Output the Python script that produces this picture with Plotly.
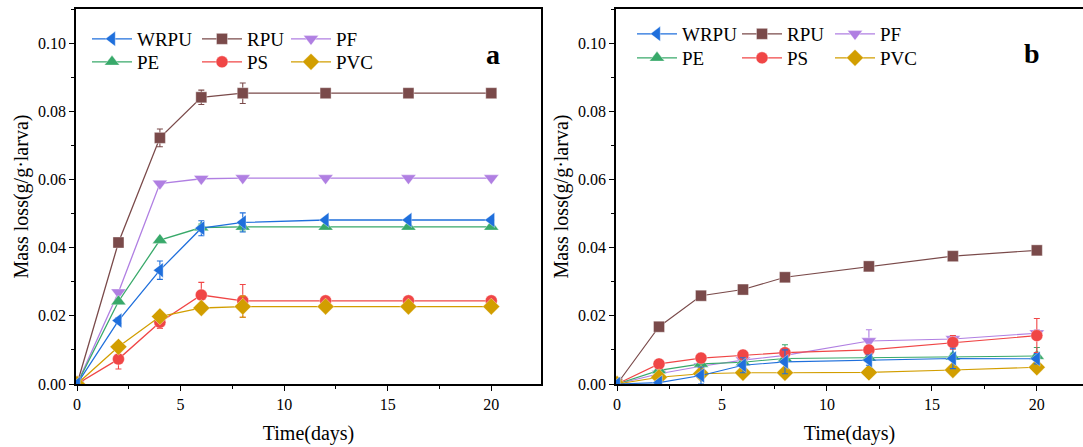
import plotly.graph_objects as go

days = [0, 2, 4, 6, 8, 12, 16, 20]

# Panel a
a_WRPU = [0, 0.0186, 0.0334, 0.0457, 0.0474, 0.0481, 0.0481, 0.0481]
a_WRPU_err = [0, 0.0008, 0.0027, 0.0022, 0.0028, 0, 0, 0]
a_RPU = [0, 0.0415, 0.0722, 0.0841, 0.0853, 0.0853, 0.0853, 0.0853]
a_RPU_err = [0, 0.0010, 0.0026, 0.0021, 0.0030, 0, 0, 0]
a_PF = [0, 0.0269, 0.0588, 0.0602, 0.0604, 0.0604, 0.0604, 0.0604]
a_PF_err = [0, 0.0005, 0.0004, 0.0005, 0.0004, 0, 0, 0]
a_PE = [0, 0.0242, 0.0422, 0.0459, 0.0461, 0.0461, 0.0461, 0.0461]
a_PE_err = [0, 0.0005, 0.0005, 0.0010, 0.0012, 0, 0, 0]
a_PS = [0, 0.0073, 0.0181, 0.0261, 0.0244, 0.0244, 0.0244, 0.0244]
a_PS_err = [0, 0.0029, 0.0018, 0.0037, 0.0048, 0, 0, 0]
a_PVC = [0, 0.0109, 0.0198, 0.0223, 0.0227, 0.0227, 0.0227, 0.0227]
a_PVC_err = [0, 0.0005, 0.0008, 0.0006, 0.0031, 0, 0, 0]

# Panel b
b_WRPU = [0, 0.0004, 0.0025, 0.0055, 0.0065, 0.0070, 0.0075, 0.0074]
b_WRPU_err = [0, 0.0003, 0.0025, 0.0022, 0.0035, 0.0015, 0.0030, 0.0015]
b_RPU = [0, 0.0168, 0.0259, 0.0277, 0.0313, 0.0345, 0.0375, 0.0392]
b_RPU_err = [0, 0.0004, 0.0005, 0.0005, 0.0005, 0.0005, 0.0005, 0.0005]
b_PF = [0, 0.0030, 0.0052, 0.0070, 0.0084, 0.0126, 0.0132, 0.0149]
b_PF_err = [0, 0.0003, 0.0005, 0.0005, 0.0010, 0.0033, 0.0010, 0.0010]
b_PE = [0, 0.0040, 0.0059, 0.0064, 0.0075, 0.0077, 0.0080, 0.0082]
b_PE_err = [0, 0.0003, 0.0005, 0.0005, 0.0040, 0.0010, 0.0010, 0.0025]
b_PS = [0, 0.0059, 0.0076, 0.0085, 0.0092, 0.0100, 0.0122, 0.0142]
b_PS_err = [0, 0.0003, 0.0005, 0.0005, 0.0010, 0.0010, 0.0020, 0.0050]
b_PVC = [0, 0.0020, 0.0030, 0.0033, 0.0033, 0.0034, 0.0041, 0.0049]
b_PVC_err = [0, 0.0002, 0.0003, 0.0003, 0.0003, 0.0003, 0.0004, 0.0004]

colors = {"WRPU": "#1F6FDC", "RPU": "#7A4A4A", "PF": "#B07FE2",
          "PE": "#38A96A", "PS": "#F04646", "PVC": "#D29E00"}
symbols = {"WRPU": "triangle-left", "RPU": "square", "PF": "triangle-down",
           "PE": "triangle-up", "PS": "circle", "PVC": "diamond"}
sizes = {"WRPU": 13, "RPU": 11, "PF": 13, "PE": 13, "PS": 12, "PVC": 13}
# legend grid position (column, row)
grid = {"WRPU": (0, 0), "RPU": (1, 0), "PF": (2, 0), "PE": (0, 1), "PS": (1, 1), "PVC": (2, 1)}

panel_a = {"WRPU": (a_WRPU, a_WRPU_err), "RPU": (a_RPU, a_RPU_err), "PF": (a_PF, a_PF_err),
           "PE": (a_PE, a_PE_err), "PS": (a_PS, a_PS_err), "PVC": (a_PVC, a_PVC_err)}
panel_b = {"WRPU": (b_WRPU, b_WRPU_err), "RPU": (b_RPU, b_RPU_err), "PF": (b_PF, b_PF_err),
           "PE": (b_PE, b_PE_err), "PS": (b_PS, b_PS_err), "PVC": (b_PVC, b_PVC_err)}

draw_order = ["RPU", "PF", "PE", "PS", "PVC", "WRPU"]
FONT = "Liberation Serif"
W, H = 1083, 447

# legend anchor pixels (left of symbol line, row centre)
leg_cols = [[87, 197, 286], [632, 737, 830]]
leg_rows = [[39, 62], [34, 58]]

fig = go.Figure()
legends = {}
k = 0
for pi, (panel, xa, ya, lw) in enumerate([(panel_a, "x", "y", 1.3), (panel_b, "x2", "y2", 1.1)]):
    for n in draw_order:
        vals, err = panel[n]
        k += 1
        key = "legend" if k == 1 else f"legend{k}"
        c, r = grid[n]
        legends[key] = dict(x=leg_cols[pi][c] / W, y=(H - leg_rows[pi][r]) / H,
                            xanchor="left", yanchor="middle", orientation="h",
                            bgcolor="rgba(0,0,0,0)", borderwidth=0, itemwidth=40,
                            font=dict(family=FONT, size=19, color="black"), itemclick=False)
        fig.add_trace(go.Scatter(
            x=days, y=vals, name=n, mode="lines+markers",
            xaxis=xa, yaxis=ya,
            line=dict(color=colors[n], width=lw),
            marker=dict(symbol=symbols[n], size=sizes[n], color=colors[n],
                        line=dict(width=0.6, color="rgba(255,255,255,0.6)")),
            error_y=dict(type="data", array=err, visible=True, color=colors[n],
                         thickness=1.1, width=3),
            legend=key,
        ))

axis_common = dict(showline=True, linecolor="black", linewidth=1.6, mirror=True,
                   ticks="outside", ticklen=5, tickwidth=1.3, tickcolor="black",
                   showgrid=False, zeroline=False, automargin=False,
                   tickfont=dict(family=FONT, size=16, color="black"),
                   title_font=dict(family=FONT, size=20, color="black"))
minor_x = dict(ticks="outside", ticklen=3, tickwidth=1.2, tickcolor="black", dtick=2.5, tick0=0)
minor_y = dict(ticks="outside", ticklen=3, tickwidth=1.2, tickcolor="black", dtick=0.01, tick0=0)

ytop, ybot = 9, 384
ydom = [(H - ybot) / H, (H - ytop) / H]

fig.update_layout(
    template="none",
    width=W, height=H, margin=dict(l=0, r=0, t=0, b=0, pad=0),
    paper_bgcolor="white", plot_bgcolor="white",
    font=dict(family=FONT, color="black"),
    showlegend=True,
    xaxis=dict(domain=[76 / W, 541 / W], range=[-0.05, 22.4], tickvals=[0, 5, 10, 15, 20],
               minor=minor_x, title=dict(text="Time(days)", standoff=14), anchor="y", **axis_common),
    yaxis=dict(domain=ydom, range=[0, 0.11], tickvals=[0, 0.02, 0.04, 0.06, 0.08, 0.10],
               tickformat=".2f", minor=minor_y,
               title=dict(text="Mass loss(g/g·larva)", standoff=4), anchor="x", **axis_common),
    xaxis2=dict(domain=[616 / W, 1.0], range=[-0.05, 22.2], tickvals=[0, 5, 10, 15, 20],
                minor=minor_x, title=dict(text="Time(days)", standoff=14), anchor="y2", **axis_common),
    yaxis2=dict(domain=ydom, range=[0, 0.11], tickvals=[0, 0.02, 0.04, 0.06, 0.08, 0.10],
                tickformat=".2f", minor=minor_y,
                title=dict(text="Mass loss(g/g·larva)", standoff=4), anchor="x2", **axis_common),
)
fig.update_layout(**legends)

fig.add_annotation(x=493 / W, y=(H - 55) / H, xref="paper", yref="paper", text="<b>a</b>",
                   xanchor="center", yanchor="middle",
                   showarrow=False, font=dict(family=FONT, size=28, color="black"))
fig.add_annotation(x=1032 / W, y=(H - 53) / H, xref="paper", yref="paper", text="<b>b</b>",
                   xanchor="center", yanchor="middle",
                   showarrow=False, font=dict(family=FONT, size=28, color="black"))

fig.write_html("out.html", config={"displayModeBar": False},
               post_script="document.body.style.margin='0';")
